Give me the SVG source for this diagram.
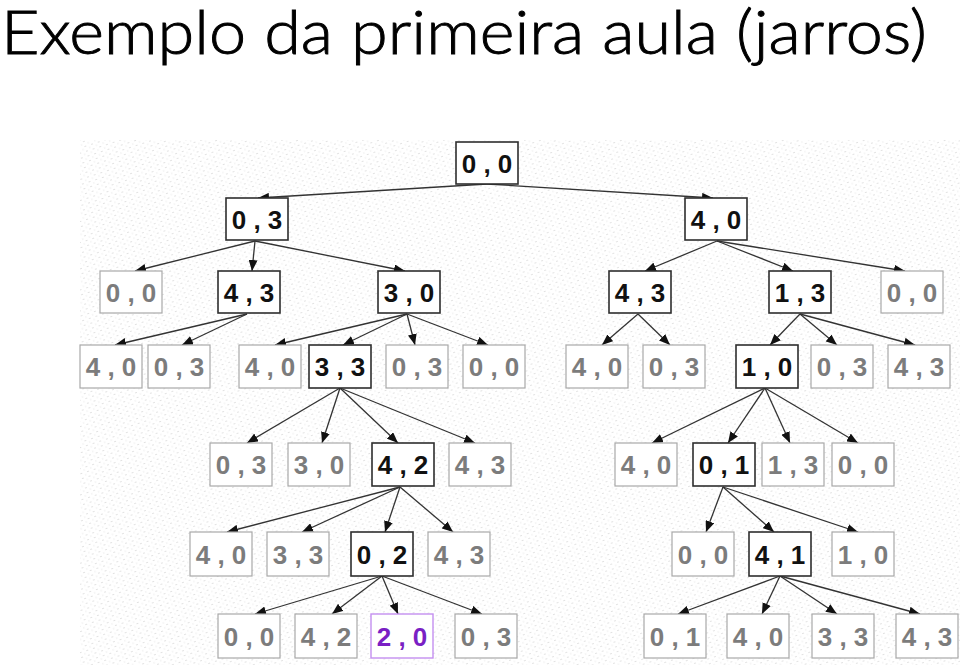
<svg xmlns="http://www.w3.org/2000/svg" width="960" height="665" viewBox="0 0 960 665">
<defs>
<style>
.b rect{fill:#fff;stroke:#2e2e2e;stroke-width:1.6}
.g rect{fill:#fff;stroke:#a9a9a9;stroke-width:1.2}
.p rect{fill:#fff;stroke:#c48ff0;stroke-width:1.4}
text.t{font-family:"Liberation Sans",Arial,sans-serif;font-weight:bold;font-size:26px;text-anchor:middle}
.b text{fill:#111}
.g text{fill:#7c7c7c}
.p text{fill:#7a1fc4}
#edges line{stroke:#333;stroke-width:1.3;marker-end:url(#ah)}
</style>
<marker id="ah" markerUnits="userSpaceOnUse" markerWidth="11" markerHeight="9" refX="11" refY="4.5" orient="auto">
<path d="M0,0 L11,4.5 L0,9 z" fill="#111"/>
</marker>
<pattern id="tex" width="7" height="5" patternUnits="userSpaceOnUse" patternTransform="rotate(-18)">
<rect x="0" y="0" width="2" height="1" fill="#e2e2e2"/>
<rect x="4" y="2.5" width="1.5" height="1" fill="#ececec"/>
</pattern>
</defs>
<rect width="960" height="665" fill="#fff"/>
<rect x="80" y="140" width="880" height="525" fill="url(#tex)"/>
<text x="1" y="54" font-family="Lato,'Open Sans',sans-serif" font-weight="300" font-size="61" fill="#000" stroke="#000" stroke-width="0.9" textLength="926" lengthAdjust="spacingAndGlyphs">Exemplo da primeira aula (jarros)</text>

<g id="edges">
<line x1="487" y1="184" x2="258" y2="198"/>
<line x1="487" y1="184" x2="713" y2="198"/>
<line x1="255" y1="241" x2="135" y2="271"/>
<line x1="255" y1="241" x2="252" y2="271"/>
<line x1="255" y1="241" x2="405" y2="271"/>
<line x1="717" y1="241" x2="645" y2="271"/>
<line x1="717" y1="241" x2="793" y2="271"/>
<line x1="717" y1="241" x2="905" y2="271"/>
<line x1="247" y1="314" x2="115" y2="345"/>
<line x1="247" y1="314" x2="182" y2="345"/>
<line x1="407" y1="314" x2="275" y2="345"/>
<line x1="407" y1="314" x2="343" y2="345"/>
<line x1="407" y1="314" x2="415" y2="345"/>
<line x1="407" y1="314" x2="488" y2="345"/>
<line x1="638" y1="314" x2="602" y2="345"/>
<line x1="638" y1="314" x2="670" y2="345"/>
<line x1="800" y1="314" x2="770" y2="345"/>
<line x1="800" y1="314" x2="837" y2="345"/>
<line x1="800" y1="314" x2="915" y2="345"/>
<line x1="340" y1="388" x2="247" y2="443"/>
<line x1="340" y1="388" x2="322" y2="443"/>
<line x1="340" y1="388" x2="398" y2="443"/>
<line x1="340" y1="388" x2="475" y2="443"/>
<line x1="765" y1="388" x2="652" y2="443"/>
<line x1="765" y1="388" x2="728" y2="443"/>
<line x1="765" y1="388" x2="790" y2="443"/>
<line x1="765" y1="388" x2="858" y2="443"/>
<line x1="400" y1="487" x2="227" y2="532"/>
<line x1="400" y1="487" x2="302" y2="532"/>
<line x1="400" y1="487" x2="385" y2="532"/>
<line x1="400" y1="487" x2="453" y2="532"/>
<line x1="723" y1="487" x2="706" y2="532"/>
<line x1="723" y1="487" x2="774" y2="532"/>
<line x1="723" y1="487" x2="858" y2="532"/>
<line x1="382" y1="576" x2="255" y2="614"/>
<line x1="382" y1="576" x2="332" y2="614"/>
<line x1="382" y1="576" x2="398" y2="614"/>
<line x1="382" y1="576" x2="482" y2="614"/>
<line x1="780" y1="576" x2="678" y2="614"/>
<line x1="780" y1="576" x2="762" y2="614"/>
<line x1="780" y1="576" x2="837" y2="614"/>
<line x1="780" y1="576" x2="920" y2="614"/>
</g>

<g id="n0" class="b"><rect x="456" y="142" width="62" height="42"/><text class="t" x="487" y="173">0 , 0</text></g>

<g id="n1a" class="b"><rect x="226" y="198" width="62" height="42"/><text class="t" x="257" y="229">0 , 3</text></g>
<g id="n1b" class="b"><rect x="685" y="198" width="62" height="42"/><text class="t" x="716" y="229">4 , 0</text></g>

<g id="n2a" class="g"><rect x="100" y="271" width="62" height="42"/><text class="t" x="131" y="302">0 , 0</text></g>
<g id="n2b" class="b"><rect x="218" y="271" width="62" height="42"/><text class="t" x="249" y="302">4 , 3</text></g>
<g id="n2c" class="b"><rect x="378" y="271" width="62" height="42"/><text class="t" x="409" y="302">3 , 0</text></g>
<g id="n2d" class="b"><rect x="609" y="271" width="62" height="42"/><text class="t" x="640" y="302">4 , 3</text></g>
<g id="n2e" class="b"><rect x="769" y="271" width="62" height="42"/><text class="t" x="800" y="302">1 , 3</text></g>
<g id="n2f" class="g"><rect x="881" y="271" width="62" height="42"/><text class="t" x="912" y="302">0 , 0</text></g>

<g id="n3a" class="g"><rect x="80" y="345" width="62" height="43"/><text class="t" x="111" y="376">4 , 0</text></g>
<g id="n3b" class="g"><rect x="148" y="345" width="62" height="43"/><text class="t" x="179" y="376">0 , 3</text></g>
<g id="n3c" class="g"><rect x="239" y="345" width="62" height="43"/><text class="t" x="270" y="376">4 , 0</text></g>
<g id="n3d" class="b"><rect x="309" y="345" width="62" height="43"/><text class="t" x="340" y="376">3 , 3</text></g>
<g id="n3e" class="g"><rect x="386" y="345" width="62" height="43"/><text class="t" x="417" y="376">0 , 3</text></g>
<g id="n3f" class="g"><rect x="463" y="345" width="62" height="43"/><text class="t" x="494" y="376">0 , 0</text></g>
<g id="n3g" class="g"><rect x="566" y="345" width="62" height="43"/><text class="t" x="597" y="376">4 , 0</text></g>
<g id="n3h" class="g"><rect x="643" y="345" width="62" height="43"/><text class="t" x="674" y="376">0 , 3</text></g>
<g id="n3i" class="b"><rect x="736" y="345" width="62" height="43"/><text class="t" x="767" y="376">1 , 0</text></g>
<g id="n3j" class="g"><rect x="811" y="345" width="62" height="43"/><text class="t" x="842" y="376">0 , 3</text></g>
<g id="n3k" class="g"><rect x="888" y="345" width="62" height="43"/><text class="t" x="919" y="376">4 , 3</text></g>

<g id="n4a" class="g"><rect x="210" y="443" width="62" height="43"/><text class="t" x="241" y="474">0 , 3</text></g>
<g id="n4b" class="g"><rect x="288" y="443" width="62" height="43"/><text class="t" x="319" y="474">3 , 0</text></g>
<g id="n4c" class="b"><rect x="372" y="443" width="62" height="43"/><text class="t" x="403" y="474">4 , 2</text></g>
<g id="n4d" class="g"><rect x="449" y="443" width="62" height="43"/><text class="t" x="480" y="474">4 , 3</text></g>
<g id="n4e" class="g"><rect x="615" y="443" width="62" height="43"/><text class="t" x="646" y="474">4 , 0</text></g>
<g id="n4f" class="b"><rect x="693" y="443" width="62" height="43"/><text class="t" x="724" y="474">0 , 1</text></g>
<g id="n4g" class="g"><rect x="762" y="443" width="62" height="43"/><text class="t" x="793" y="474">1 , 3</text></g>
<g id="n4h" class="g"><rect x="832" y="443" width="62" height="43"/><text class="t" x="863" y="474">0 , 0</text></g>

<g id="n5a" class="g"><rect x="190" y="532" width="62" height="44"/><text class="t" x="221" y="564">4 , 0</text></g>
<g id="n5b" class="g"><rect x="267" y="532" width="62" height="44"/><text class="t" x="298" y="564">3 , 3</text></g>
<g id="n5c" class="b"><rect x="351" y="532" width="62" height="44"/><text class="t" x="382" y="564">0 , 2</text></g>
<g id="n5d" class="g"><rect x="428" y="532" width="62" height="44"/><text class="t" x="459" y="564">4 , 3</text></g>
<g id="n5e" class="g"><rect x="672" y="532" width="62" height="44"/><text class="t" x="703" y="564">0 , 0</text></g>
<g id="n5f" class="b"><rect x="749" y="532" width="62" height="44"/><text class="t" x="780" y="564">4 , 1</text></g>
<g id="n5g" class="g"><rect x="832" y="532" width="62" height="44"/><text class="t" x="863" y="564">1 , 0</text></g>

<g id="n6a" class="g"><rect x="218" y="614" width="62" height="44"/><text class="t" x="249" y="646">0 , 0</text></g>
<g id="n6b" class="g"><rect x="295" y="614" width="62" height="44"/><text class="t" x="326" y="646">4 , 2</text></g>
<g id="n6c" class="p"><rect x="371" y="614" width="62" height="44"/><text class="t" x="402" y="646">2 , 0</text></g>
<g id="n6d" class="g"><rect x="455" y="614" width="62" height="44"/><text class="t" x="486" y="646">0 , 3</text></g>
<g id="n6e" class="g"><rect x="644" y="614" width="62" height="44"/><text class="t" x="675" y="646">0 , 1</text></g>
<g id="n6f" class="g"><rect x="727" y="614" width="62" height="44"/><text class="t" x="758" y="646">4 , 0</text></g>
<g id="n6g" class="g"><rect x="812" y="614" width="62" height="44"/><text class="t" x="843" y="646">3 , 3</text></g>
<g id="n6h" class="g"><rect x="896" y="614" width="62" height="44"/><text class="t" x="927" y="646">4 , 3</text></g>
</svg>
